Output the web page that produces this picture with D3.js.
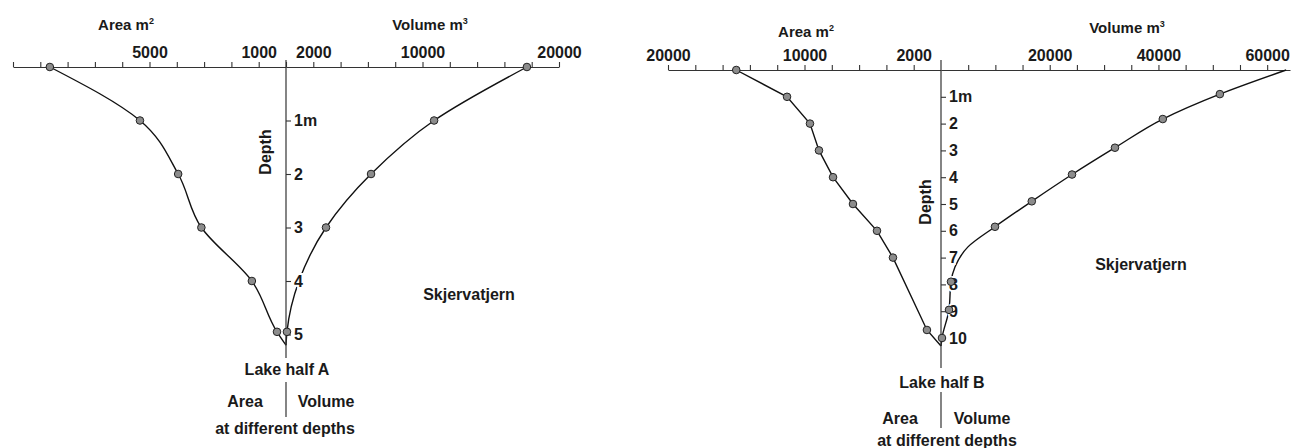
<!DOCTYPE html>
<html>
<head>
<meta charset="utf-8">
<script src="https://cdn.jsdelivr.net/npm/d3@7"></script>
<style>
  html, body { margin: 0; padding: 0; background: #fff; }
  svg text { font-family: "Liberation Sans", Arial, Helvetica, sans-serif; font-weight: bold; fill: #1a1a1a; }
</style>
</head>
<body>
<div id="chart"></div>
<script>
// Lake half A (Skjervatjern)
var depthAreaA = [0, 1, 2, 3, 4, 4.95, 5.2];
var areaA      = [8650, 5350, 3950, 3100, 1250, 330, 0];
var dotAreaA   = [1, 1, 1, 1, 1, 1, 0];
var depthVolA  = [0, 1, 2, 3, 4, 4.95, 5.2];
var volA       = [17650, 10850, 6230, 2930, 950, 70, 0];
var dotVolA    = [1, 1, 1, 1, 0, 1, 0];

// Lake half B
var depthAreaB = [0, 1, 2, 3, 4, 5, 6, 7, 9.7, 10.3];
var areaB      = [15000, 11280, 9600, 8940, 7910, 6450, 4690, 3520, 1030, 0];
var dotAreaB   = [1, 1, 1, 1, 1, 1, 1, 1, 1, 0];
var depthVolB  = [0, 0.9, 1.83, 2.9, 3.9, 4.9, 5.85, 6.6, 7.35, 7.9, 8.95, 10, 10.3];
var volB       = [63500, 51300, 40800, 32000, 24100, 16700, 9930, 4960, 2570, 1840, 1470, 180, 0];
var dotVolB    = [0, 1, 1, 1, 1, 1, 1, 0, 0, 1, 1, 1, 0];

// tick values and which of them carry a label
var areaTicksA   = d3.range(0, 10001, 1000);
var areaLabelsA  = [5000, 1000];
var volTicksA    = d3.range(2000, 20001, 2000);
var volLabelsA   = [2000, 10000, 20000];
var depthTicksA  = [1, 2, 3, 4, 5];

var areaTicksB   = d3.range(2000, 20001, 2000);
var areaLabelsB  = [20000, 10000, 2000];
var volTicksB    = d3.range(5000, 60001, 5000);
var volLabelsB   = [20000, 40000, 60000];
var depthTicksB  = [1, 2, 3, 4, 5, 6, 7, 8, 9, 10];

var svg = d3.select('#chart').append('svg')
    .attr('width', 1292)
    .attr('height', 448);

svg.append('rect').attr('width', 1292).attr('height', 448).attr('fill', '#fff');

drawHalf({
    cx: 286, top: 67, axisTop: 60, axisBottom: 358,
    area: d3.scaleLinear().domain([0, 10000]).range([286, 13]),
    vol: d3.scaleLinear().domain([0, 20000]).range([286, 559]),
    depth: d3.scaleLinear().domain([0, 5]).range([67, 334.5]),
    areaTicks: areaTicksA, areaLabels: areaLabelsA,
    volTicks: volTicksA, volLabels: volLabelsA,
    depthTicks: depthTicksA,
    areaPts: zip(depthAreaA, areaA, dotAreaA),
    volPts: zip(depthVolA, volA, dotVolA),
    areaCurve: d3.curveMonotoneY, volCurve: d3.curveMonotoneY,
    areaTitle: [126, 30], volTitle: [430, 30],
    depthTitle: [265, 152], lakeTitle: [469, 300],
    half: 'A', halfY: 375, divider: [382, 417], legendY: 407,
    areaLegendX: 245, volLegendX: 326, depthsY: 434, depthsX: 285
});

drawHalf({
    cx: 941, top: 70, axisTop: 60, axisBottom: 368,
    area: d3.scaleLinear().domain([0, 20000]).range([941, 668]),
    vol: d3.scaleLinear().domain([0, 64200]).range([941, 1290]),
    depth: d3.scaleLinear().domain([0, 10]).range([70, 338]),
    areaTicks: areaTicksB, areaLabels: areaLabelsB,
    volTicks: volTicksB, volLabels: volLabelsB,
    depthTicks: depthTicksB,
    areaPts: zip(depthAreaB, areaB, dotAreaB),
    volPts: zip(depthVolB, volB, dotVolB),
    areaCurve: d3.curveLinear, volCurve: d3.curveMonotoneY,
    areaTitle: [806, 37], volTitle: [1127, 33],
    depthTitle: [925, 202], lakeTitle: [1141, 270],
    half: 'B', halfY: 388, divider: [392, 428], legendY: 424,
    areaLegendX: 900, volLegendX: 982, depthsY: 446, depthsX: 947
});

function zip(depths, values, dots) {
    return depths.map(function(d, i) {
        return {depth: d, value: values[i], dot: dots[i]};
    });
}

function drawHalf(o) {
    var g = svg.append('g');

    // horizontal axes (area to the left, volume to the right)
    var areaAxis = d3.axisTop(o.area)
        .tickValues(o.areaTicks)
        .tickSize(5).tickSizeOuter(0)
        .tickFormat(function(d) { return o.areaLabels.indexOf(d) >= 0 ? d : ''; });
    var volAxis = d3.axisTop(o.vol)
        .tickValues(o.volTicks)
        .tickSize(5).tickSizeOuter(0)
        .tickFormat(function(d) { return o.volLabels.indexOf(d) >= 0 ? d : ''; });

    [areaAxis, volAxis].forEach(function(ax) {
        var a = g.append('g')
            .attr('transform', 'translate(0,' + o.top + ')')
            .call(ax);
        a.select('.domain').attr('stroke', '#333').attr('stroke-width', 1.1);
        a.selectAll('.tick line').attr('stroke', '#333').attr('stroke-width', 1.1);
        a.selectAll('.tick text')
            .attr('y', -9)
            .style('font-size', '16px')
            .style('font-family', '"Liberation Sans", Arial, sans-serif')
            .style('font-weight', 'bold')
            .attr('fill', '#1a1a1a');
    });

    // the curves
    var areaLine = d3.line()
        .x(function(d) { return o.area(d.value); })
        .y(function(d) { return o.depth(d.depth); })
        .curve(o.areaCurve);
    var volLine = d3.line()
        .x(function(d) { return o.vol(d.value); })
        .y(function(d) { return o.depth(d.depth); })
        .curve(o.volCurve);

    g.append('path').datum(o.areaPts).attr('d', areaLine)
        .attr('fill', 'none').attr('stroke', '#111').attr('stroke-width', 1.4);
    g.append('path').datum(o.volPts).attr('d', volLine)
        .attr('fill', 'none').attr('stroke', '#111').attr('stroke-width', 1.4);

    // central depth axis, labels get a white halo so the curves break around them
    var depthAxis = d3.axisRight(o.depth)
        .tickValues(o.depthTicks)
        .tickSize(5).tickSizeOuter(0)
        .tickFormat(function(d) { return d === 1 ? '1m' : d; });
    var da = g.append('g')
        .attr('transform', 'translate(' + o.cx + ',0)')
        .call(depthAxis);
    da.select('.domain').remove();
    da.selectAll('.tick line').attr('stroke', '#333').attr('stroke-width', 1.1);
    da.selectAll('.tick text')
        .attr('x', 8)
        .style('font-size', '16px')
        .style('font-family', '"Liberation Sans", Arial, sans-serif')
        .style('font-weight', 'bold')
        .attr('fill', '#1a1a1a')
        .attr('stroke', '#fff').attr('stroke-width', 4)
        .attr('paint-order', 'stroke');

    g.append('line')
        .attr('x1', o.cx).attr('x2', o.cx)
        .attr('y1', o.axisTop).attr('y2', o.axisBottom)
        .attr('stroke', '#333').attr('stroke-width', 1.2);

    // markers
    var dots = o.areaPts.filter(function(d) { return d.dot; }).map(function(d) {
        return [o.area(d.value), o.depth(d.depth)];
    }).concat(o.volPts.filter(function(d) { return d.dot; }).map(function(d) {
        return [o.vol(d.value), o.depth(d.depth)];
    }));
    g.selectAll('circle.dot').data(dots).enter().append('circle')
        .attr('class', 'dot')
        .attr('cx', function(d) { return d[0]; })
        .attr('cy', function(d) { return d[1]; })
        .attr('r', 3.8)
        .attr('fill', '#8c8c8c')
        .attr('stroke', '#222')
        .attr('stroke-width', 1);

    // titles
    var t = g.append('text').attr('x', o.areaTitle[0]).attr('y', o.areaTitle[1])
        .attr('text-anchor', 'middle').style('font-size', '15px').text('Area m');
    t.append('tspan').attr('dy', -6).style('font-size', '9px').text('2');

    t = g.append('text').attr('x', o.volTitle[0]).attr('y', o.volTitle[1])
        .attr('text-anchor', 'middle').style('font-size', '15px').text('Volume m');
    t.append('tspan').attr('dy', -6).style('font-size', '9px').text('3');

    g.append('text')
        .attr('transform', 'translate(' + (o.depthTitle[0] + 6) + ',' + o.depthTitle[1] + ') rotate(-90)')
        .attr('text-anchor', 'middle').style('font-size', '16px').text('Depth');

    g.append('text').attr('x', o.lakeTitle[0]).attr('y', o.lakeTitle[1])
        .attr('text-anchor', 'middle').style('font-size', '16px').text('Skjervatjern');

    g.append('text').attr('x', o.cx + 1).attr('y', o.halfY)
        .attr('text-anchor', 'middle').style('font-size', '16px').text('Lake half ' + o.half);

    g.append('line')
        .attr('x1', o.cx).attr('x2', o.cx)
        .attr('y1', o.divider[0]).attr('y2', o.divider[1])
        .attr('stroke', '#333').attr('stroke-width', 1.2);

    g.append('text').attr('x', o.areaLegendX).attr('y', o.legendY)
        .attr('text-anchor', 'middle').style('font-size', '16px').text('Area');
    g.append('text').attr('x', o.volLegendX).attr('y', o.legendY)
        .attr('text-anchor', 'middle').style('font-size', '16px').text('Volume');
    g.append('text').attr('x', o.depthsX).attr('y', o.depthsY)
        .attr('text-anchor', 'middle').style('font-size', '16px').text('at different depths');
}
</script>
</body>
</html>
